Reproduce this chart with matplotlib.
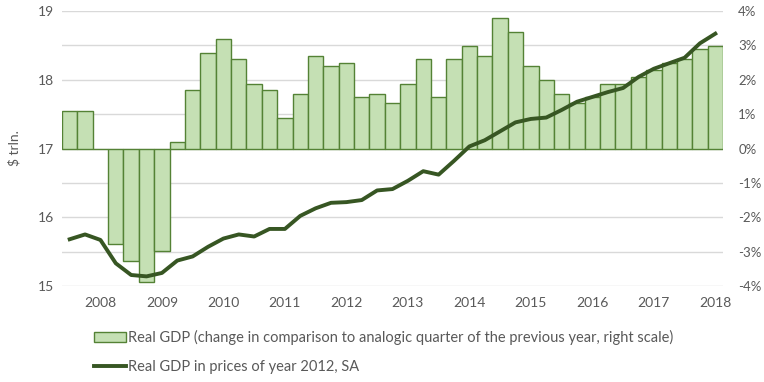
import numpy as np
import matplotlib.pyplot as plt
from matplotlib.ticker import FuncFormatter, FixedLocator

# quarters 2007Q3 .. 2018Q1
quarters = [f"{y}Q{q}" for y in range(2007, 2019) for q in range(1, 5)][2:45]
year_labels = ["2008", "2009", "2010", "2011", "2012", "2013",
               "2014", "2015", "2016", "2017", "2018"]

# y/y change, % (right scale)
gdp_change = [1.10, 1.10, 0.00, -2.79, -3.28, -3.89, -2.99, 0.20, 1.71, 2.79,
              3.19, 2.61, 1.89, 1.71, 0.90, 1.60, 2.70, 2.41, 2.50, 1.51,
              1.60, 1.31, 1.89, 2.61, 1.51, 2.61, 2.99, 2.70, 3.80, 3.39,
              2.41, 2.00, 1.60, 1.31, 1.51, 1.89, 1.89, 2.09, 2.29, 2.50,
              2.61, 2.90, 2.99]

# real GDP, $ trln (left scale)
gdp_level = [15.68, 15.75, 15.67, 15.33, 15.16, 15.14, 15.19, 15.37, 15.43, 15.57,
             15.69, 15.75, 15.72, 15.83, 15.83, 16.02, 16.13, 16.21, 16.22, 16.25,
             16.39, 16.41, 16.53, 16.67, 16.62, 16.82, 17.03, 17.12, 17.25, 17.38,
             17.43, 17.45, 17.56, 17.68, 17.75, 17.82, 17.88, 18.04, 18.16, 18.24,
             18.32, 18.53, 18.67]

plt.rcParams['font.family'] = ['Lato', 'DejaVu Sans']
grey = "#595959"

fig = plt.figure(figsize=(7.64, 3.82), dpi=100)
ax1 = fig.add_axes([62 / 764, 1 - 286 / 382, 661 / 764, 275 / 382])
ax2 = ax1.twinx()
x = np.arange(len(quarters))

ax1.bar(x, gdp_change, width=1.0, color="#C5E0B4", edgecolor="#548235",
        linewidth=1.0, label="Real GDP (change in comparison to analogic quarter of the previous year, right scale)")
ax1.set_ylim(-4, 4)
ax1.set_xlim(-0.5, len(quarters) - 0.5)
ax1.yaxis.set_major_locator(FixedLocator(range(-4, 5)))
ax1.yaxis.set_major_formatter(FuncFormatter(lambda v, p: f"{v:.0f}%"))
ax1.grid(axis="y", color="#D9D9D9", linewidth=1.0)
ax1.set_axisbelow(True)

ax2.plot(x, gdp_level, color="#375623", linewidth=2.8,
         label="Real GDP in prices of year 2012, SA")
ax2.set_ylim(15, 19)
ax2.set_yticks([15, 16, 17, 18, 19])

# bars use the right scale, line the left one
ax1.yaxis.tick_right()
ax2.yaxis.tick_left()
ax2.yaxis.set_label_position("left")
ax2.set_ylabel("$ trln.", color=grey, fontsize=10, labelpad=12)

tick_pos = [quarters.index(f"{y}Q1") for y in year_labels]
ax1.set_xticks(tick_pos)
ax1.set_xticklabels(year_labels)

for ax in (ax1, ax2):
    for s in ax.spines.values():
        s.set_visible(False)
    ax.tick_params(length=0, labelsize=10, colors=grey)
ax1.tick_params(axis="y", pad=11, labelsize=9.5)
ax1.tick_params(axis="x", pad=8)
ax2.tick_params(axis="y", pad=6)

h1, l1 = ax1.get_legend_handles_labels()
h2, l2 = ax2.get_legend_handles_labels()
fig.legend(h1 + h2, l1 + l2, loc="upper left", bbox_to_anchor=(88 / 764, 1 - 324 / 382),
           frameon=False, fontsize=10.5, handlelength=2.2, handletextpad=0.15,
           labelspacing=1.05, labelcolor=grey, borderaxespad=0)

fig.savefig("out.png", dpi=100)
